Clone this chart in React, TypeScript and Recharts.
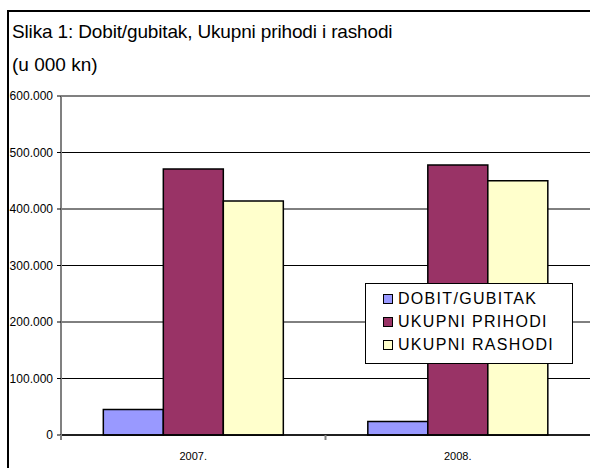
import React from "react";
import { BarChart, Bar, XAxis, YAxis, CartesianGrid, ReferenceLine } from "recharts";

// Slika 1: dobit/gubitak, ukupni prihodi i rashodi (u 000 kn), 2007. i 2008.

const godine = ["2007.", "2008."];
const dobitGubitak = [45000, 24000];
const ukupniPrihodi = [471000, 478000];
const ukupniRashodi = [414000, 450000];
const yTicks = [0, 100000, 200000, 300000, 400000, 500000, 600000];
const nazivi = ["DOBIT/GUBITAK", "UKUPNI PRIHODI", "UKUPNI RASHODI"];
const boje = ["#9999FF", "#993366", "#FFFFCC"];

const FONT = "Arial, 'Liberation Sans', sans-serif";

const rows = godine.map((g, i) => ({
  godina: g,
  dobit: dobitGubitak[i],
  prihodi: ukupniPrihodi[i],
  rashodi: ukupniRashodi[i],
}));

const fmt = (v: number) => String(v).replace(/\B(?=(\d{3})+(?!\d))/g, ".");

function GodinaTick({ x, y, payload }: any) {
  const half = payload?.offset ?? 0;
  return (
    <g>
      <line x1={x - half} x2={x - half} y1={y} y2={y + 5} stroke="#808080" strokeWidth={2} />
      <text x={x} y={y + 25} textAnchor="middle" fontSize={11} fontFamily={FONT} fill="#000">
        {payload.value}
      </text>
    </g>
  );
}

function Legenda() {
  return (
    <div
      style={{
        position: "absolute", left: 365, top: 283, width: 206, height: 76,
        border: "1px solid #000", background: "#fff", boxSizing: "content-box",
        fontFamily: FONT, fontSize: 16, letterSpacing: 1.3, color: "#000",
        paddingTop: 3,
      }}
    >
      {nazivi.map((n, i) => (
        <div key={n} style={{ display: "flex", alignItems: "center", height: 23, paddingLeft: 17 }}>
          <span style={{ width: 8, height: 8, border: "1px solid #000", background: boje[i], marginRight: 5 }} />
          <span>{n}</span>
        </div>
      ))}
    </div>
  );
}

export default function App() {
  return (
    <div style={{ position: "fixed", left: 0, top: 0, width: 590, height: 468, background: "#fff", overflow: "hidden" }}>
      <BarChart
        width={590}
        height={468}
        data={rows}
        margin={{ top: 96, right: 0, bottom: 0, left: 8 }}
        barCategoryGap="16%"
        barGap={0}
      >
        <CartesianGrid vertical={false} stroke="#000" strokeWidth={1} />
        <XAxis
          dataKey="godina"
          height={33}
          axisLine={{ stroke: "#000", strokeWidth: 1.5 }}
          tickLine={false}
          tickSize={0}
          tickMargin={0}
          tick={<GodinaTick />}
        />
        <YAxis
          width={53}
          domain={[0, 600000]}
          ticks={yTicks}
          interval={0}
          tickFormatter={fmt}
          axisLine={{ stroke: "#808080", strokeWidth: 2 }}
          tickLine={{ stroke: "#000" }}
          tickSize={4}
          tickMargin={4}
          tick={{ fill: "#000", fontSize: 12, fontFamily: FONT }}
        />
        <ReferenceLine y={600000} stroke="#808080" strokeWidth={2} />
        <Bar dataKey="dobit" name={nazivi[0]} fill={boje[0]} stroke="#000" strokeWidth={1.5} isAnimationActive={false} />
        <Bar dataKey="prihodi" name={nazivi[1]} fill={boje[1]} stroke="#000" strokeWidth={1.5} isAnimationActive={false} />
        <Bar dataKey="rashodi" name={nazivi[2]} fill={boje[2]} stroke="#000" strokeWidth={1.5} isAnimationActive={false} />
      </BarChart>
      <svg width={590} height={468} style={{ position: "absolute", left: 0, top: 0, pointerEvents: "none" }}>
        <line x1={8} x2={8} y1={10} y2={468} stroke="#000" strokeWidth={2} />
        <line x1={7} x2={590} y1={11} y2={11} stroke="#000" strokeWidth={2} />
        <text x={12} y={38} fontSize={19} letterSpacing={-0.15} fontFamily={FONT} fill="#000">
          Slika 1: Dobit/gubitak, Ukupni prihodi i rashodi
        </text>
        <text x={12} y={71} fontSize={19} fontFamily={FONT} fill="#000">
          (u 000 kn)
        </text>
      </svg>
      <Legenda />
    </div>
  );
}
